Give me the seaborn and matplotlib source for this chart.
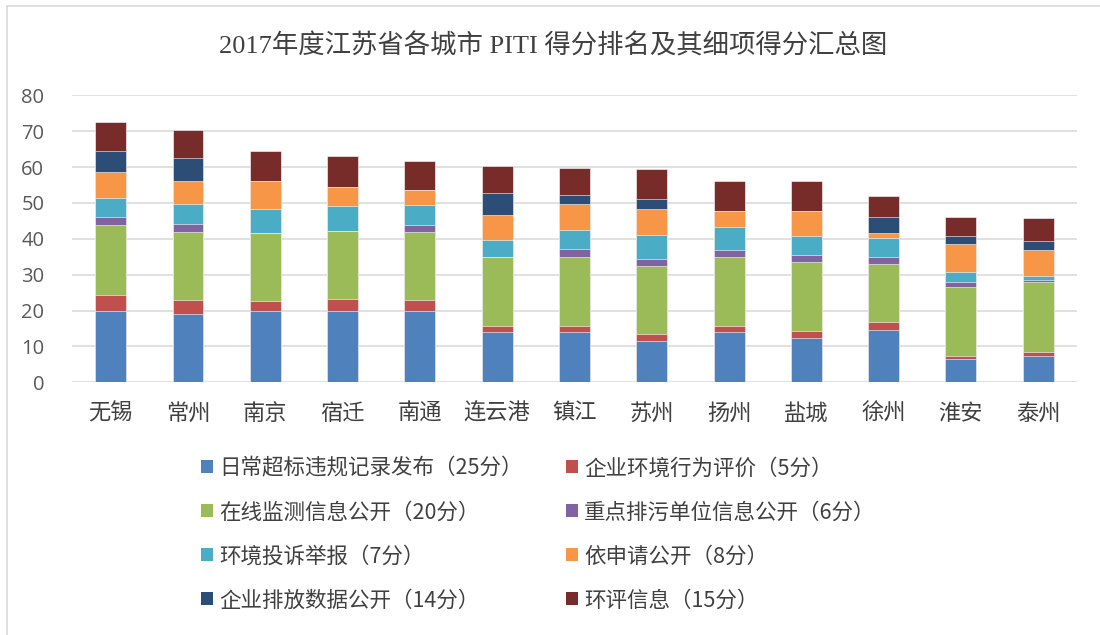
import matplotlib
matplotlib.use("Agg")
import matplotlib.pyplot as plt
from matplotlib.patches import Patch
from matplotlib.lines import Line2D
import seaborn as sns
import pandas as pd

cities = ["无锡", "常州", "南京", "宿迁", "南通", "连云港", "镇江",
          "苏州", "扬州", "盐城", "徐州", "淮安", "泰州"]

series_names = ["日常超标违规记录发布（25分）", "企业环境行为评价（5分）",
                "在线监测信息公开（20分）", "重点排污单位信息公开（6分）",
                "环境投诉举报（7分）", "依申请公开（8分）",
                "企业排放数据公开（14分）", "环评信息（15分）"]

daily = [20.0, 19.1, 19.8, 19.8, 19.8, 14.1, 14.1, 11.6, 14.1, 12.4, 14.7, 6.6, 7.4]
evaluation = [4.3, 3.7, 2.8, 3.4, 3.0, 1.6, 1.6, 1.8, 1.6, 2.0, 2.1, 0.8, 1.0]
online = [19.6, 19.1, 19.1, 19.1, 19.1, 19.1, 19.2, 19.0, 19.2, 19.1, 16.1, 19.1, 19.6]
key_units = [2.1, 2.2, 0.0, 0.0, 2.0, 0.0, 2.2, 2.0, 2.0, 2.1, 2.0, 1.5, 0.4]
complaints = [5.5, 5.7, 6.6, 6.7, 5.6, 4.9, 5.4, 6.6, 6.3, 5.3, 5.3, 2.7, 1.3]
request = [7.0, 6.3, 7.8, 5.3, 4.0, 6.9, 7.3, 7.4, 4.6, 6.9, 1.4, 7.8, 7.1]
emission = [5.9, 6.5, 0.0, 0.0, 0.0, 6.1, 2.3, 2.7, 0.0, 0.0, 4.6, 2.4, 2.5]
eia = [8.2, 7.6, 8.3, 8.7, 8.2, 7.5, 7.7, 8.3, 8.3, 8.2, 5.6, 5.2, 6.6]

colors = ["#4F81BD", "#C0504D", "#9BBB59", "#8064A2",
          "#4BACC6", "#F79646", "#2C4D75", "#772C2A"]

sns.set_style("white")
plt.rcParams["font.family"] = ["Noto Sans CJK SC", "DejaVu Sans"]

df = pd.DataFrame({"city": cities})
for name, vals in zip(series_names, [daily, evaluation, online, key_units,
                                     complaints, request, emission, eia]):
    df[name] = vals
# stacked bars: draw cumulative totals, tallest first
cum = df[series_names].cumsum(axis=1)
cum["city"] = cities

fig = plt.figure(figsize=(11, 6.35), dpi=100)
ax = fig.add_axes([0.0655, 0.398, 0.9135, 0.452])

for name, col in reversed(list(zip(series_names, colors))):
    sns.barplot(data=cum, x="city", y=name, color=col, width=0.4,
                errorbar=None, edgecolor="#ffffff", linewidth=0.4,
                saturation=1, ax=ax, zorder=3)

ax.set_ylim(0, 80)
ax.set_yticks(range(0, 81, 10))
ax.set_xlim(-0.5, len(cities) - 0.5)
ax.grid(axis="y", color="#D9D9D9", linewidth=1.1, zorder=0)
for s in ax.spines.values():
    s.set_visible(False)
ax.set_xlabel("")
ax.set_ylabel("")
ax.tick_params(axis="y", length=0, pad=20, labelsize=14.5, labelcolor="#595959")
ax.tick_params(axis="x", length=0, pad=14, labelsize=16, labelcolor="#404040")
for t in ax.get_yticklabels():
    t.set_fontfamily(["Open Sans", "DejaVu Sans"])

fig.text(0.503, 0.928, "2017年度江苏省各城市 PITI 得分排名及其细项得分汇总图",
         ha="center", va="center", fontsize=19, color="#404040",
         family=["Liberation Serif", "Noto Sans CJK SC"])

handles = [Patch(facecolor=c, edgecolor="none") for c in colors]
order = [0, 2, 4, 6, 1, 3, 5, 7]
fig.legend([handles[i] for i in order], [series_names[i] for i in order],
           ncol=2, loc="upper left", bbox_to_anchor=(0.165, 0.31),
           frameon=False, fontsize=15.5, handlelength=0.55, handleheight=0.55,
           handletextpad=0.3, labelspacing=1.02, columnspacing=2.0,
           labelcolor="#404040")

fig.add_artist(Line2D([7 / 1100, 1], [1 - 6 / 635, 1 - 6 / 635],
                      color="#D9D9D9", linewidth=1.2, transform=fig.transFigure))
fig.add_artist(Line2D([7 / 1100, 7 / 1100], [0, 1 - 6 / 635],
                      color="#D9D9D9", linewidth=1.2, transform=fig.transFigure))

fig.savefig("out.png", dpi=100)
